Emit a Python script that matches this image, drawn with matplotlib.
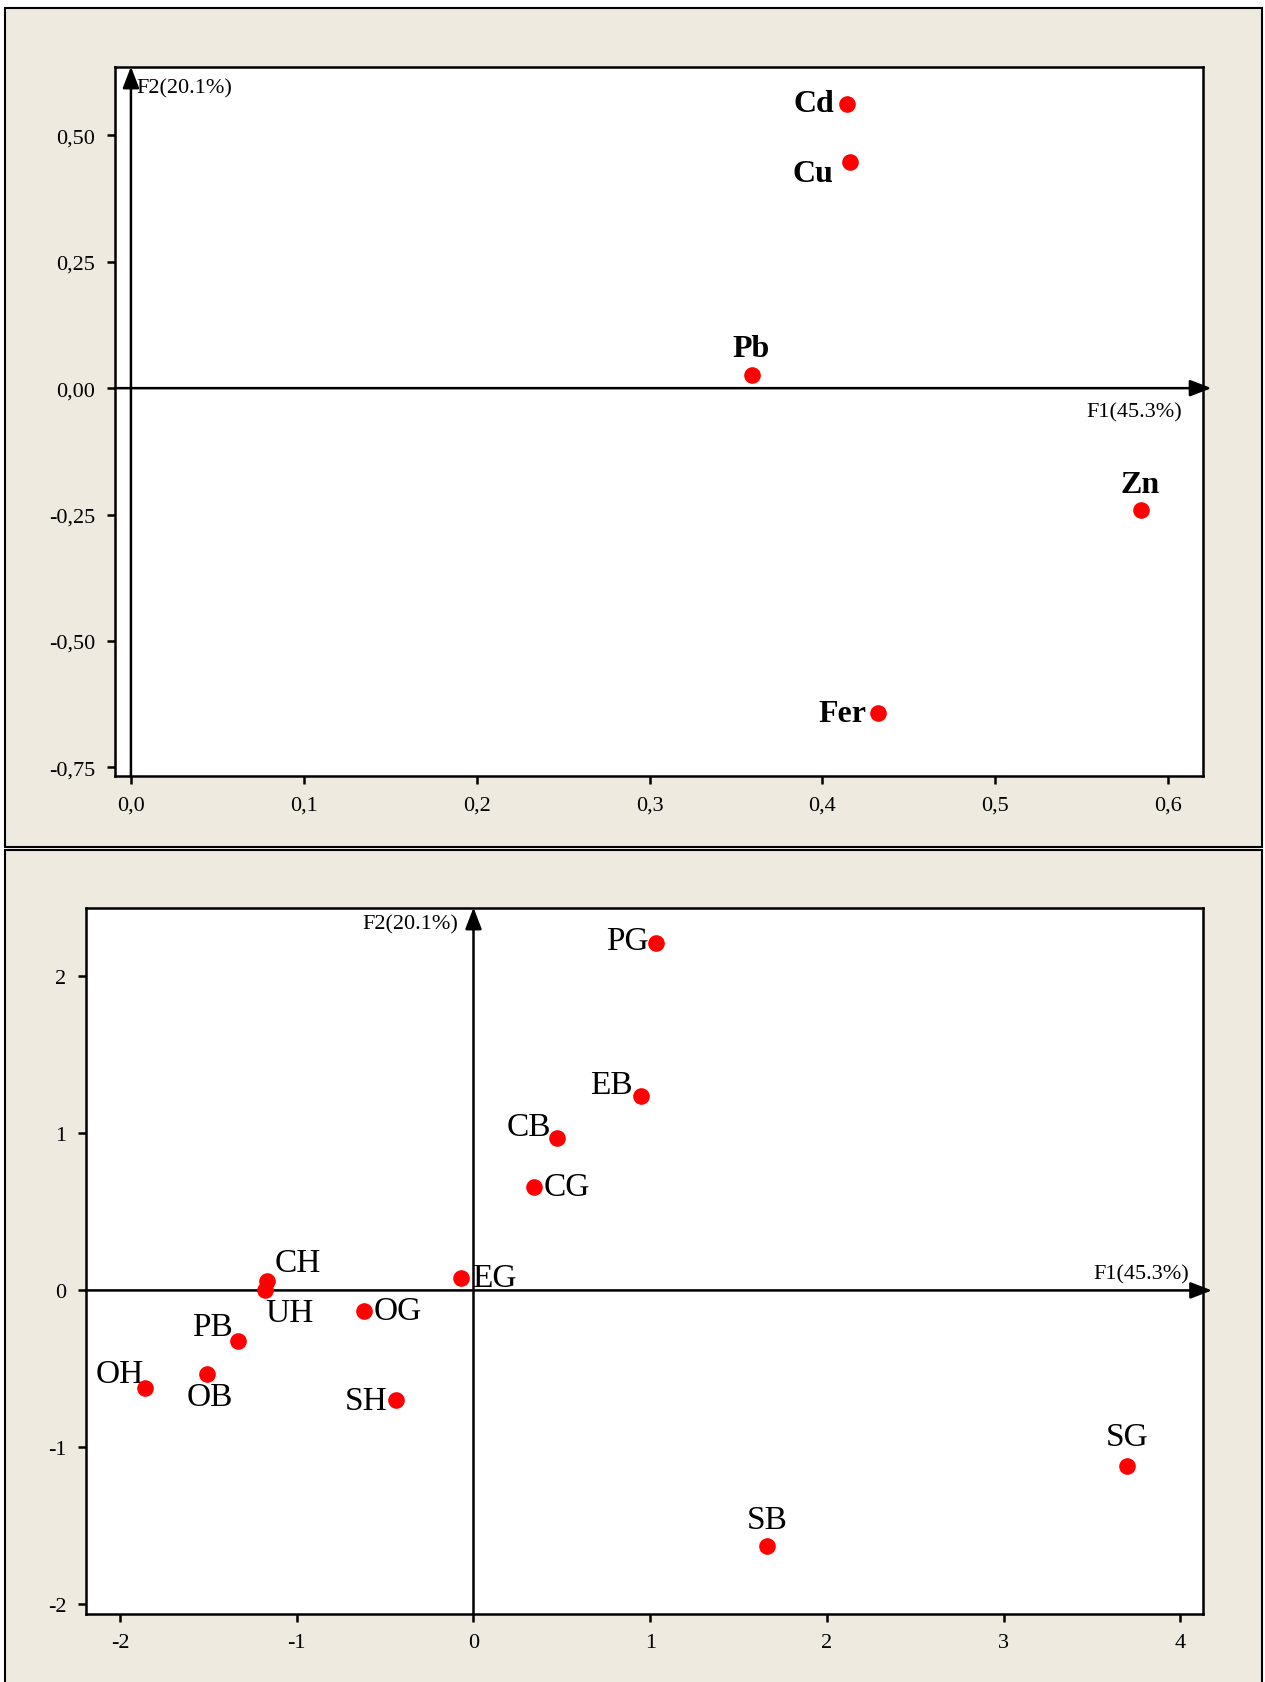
import matplotlib.pyplot as plt
from matplotlib.patches import Rectangle

plt.rcParams['font.family'] = ['Liberation Serif', 'DejaVu Serif']
plt.rcParams['axes.unicode_minus'] = False

# variables (top panel)
var_names = ['Cd', 'Cu', 'Pb', 'Zn', 'Fer']
var_f1 = [0.414, 0.416, 0.359, 0.584, 0.432]
var_f2 = [0.563, 0.447, 0.027, -0.242, -0.643]

# sites (bottom panel)
site_names = ['PG', 'EB', 'CB', 'CG', 'CH', 'UH', 'EG', 'OG', 'PB', 'OB', 'OH', 'SH', 'SB', 'SG']
site_f1 = [1.03, 0.95, 0.47, 0.34, -1.17, -1.18, -0.07, -0.62, -1.33, -1.51, -1.86, -0.44, 1.66, 3.70]
site_f2 = [2.21, 1.24, 0.97, 0.66, 0.06, 0.00, 0.08, -0.13, -0.32, -0.53, -0.62, -0.70, -1.63, -1.12]

top_xticks = [0.0, 0.1, 0.2, 0.3, 0.4, 0.5, 0.6]
top_xlabels = ['0,0', '0,1', '0,2', '0,3', '0,4', '0,5', '0,6']
top_yticks = [0.5, 0.25, 0.0, -0.25, -0.5, -0.75]
top_ylabels = ['0,50', '0,25', '0,00', '-0,25', '-0,50', '-0,75']
bot_xticks = [-2, -1, 0, 1, 2, 3, 4]
bot_yticks = [2, 1, 0, -1, -2]

x_title = 'F1(45.3%)'
y_title = 'F2(20.1%)'

# label placement: (dx, dy in points, ha)
var_pos = {
    'Cd': (-9, 0, 'right'), 'Cu': (-12, -8, 'right'), 'Pb': (0, 19, 'center'),
    'Zn': (0, 19, 'center'), 'Fer': (-8, 0, 'right'),
}
site_pos = {
    'PG': (-5, 2, 'right'), 'EB': (-6, 8, 'right'), 'CB': (-4, 8, 'right'),
    'CG': (7, 0, 'left'), 'CH': (6, 13, 'left'), 'UH': (0, -16, 'left'),
    'EG': (8, 0, 'left'), 'OG': (7, 0, 'left'), 'PB': (-4, 10, 'right'),
    'OB': (2, -17, 'center'), 'OH': (-1, 10, 'right'), 'SH': (-6, 0, 'right'),
    'SB': (0, 19, 'center'), 'SG': (0, 21, 'center'),
}

beige = '#EEEAE0'
fig = plt.figure(figsize=(12.65, 16.83), dpi=100)
fig.patch.set_facecolor('white')

# beige panels behind each chart
fig.add_artist(Rectangle((0.0043, 0.4961), 0.9933, 0.4988, transform=fig.transFigure,
                         facecolor=beige, edgecolor='black', lw=1.5, zorder=-5))
fig.add_artist(Rectangle((0.0043, -0.02), 0.9933, 0.5144, transform=fig.transFigure,
                         facecolor=beige, edgecolor='black', lw=1.5, zorder=-5))

ax1 = fig.add_axes([0.0908, 0.5384, 0.860, 0.4214])
ax2 = fig.add_axes([0.0678, 0.0405, 0.8832, 0.4196])


def style(ax):
    ax.set_facecolor('white')
    for s in ax.spines.values():
        s.set_linewidth(1.8)
    ax.tick_params(direction='out', length=6, width=1.8, labelsize=16, pad=8,
                   top=False, right=False)


def draw_axes_arrows(ax):
    arrow = dict(arrowstyle='-|>,head_length=0.65,head_width=0.25', color='black',
                 lw=1.8, mutation_scale=20, shrinkA=0, shrinkB=0)
    ax.annotate('', xy=(1.008, 0), xycoords=('axes fraction', 'data'),
                xytext=(0, 0), textcoords=('axes fraction', 'data'),
                arrowprops=arrow, annotation_clip=False)
    ax.annotate('', xy=(0, 1.0), xycoords=('data', 'axes fraction'),
                xytext=(0, 0), textcoords=('data', 'axes fraction'),
                arrowprops=arrow, annotation_clip=False)


# ---- top: variables ----
style(ax1)
ax1.set_xlim(-0.0093, 0.62)
ax1.set_ylim(-0.767, 0.636)
ax1.set_xticks(top_xticks)
ax1.set_xticklabels(top_xlabels)
ax1.set_yticks(top_yticks)
ax1.set_yticklabels(top_ylabels)
draw_axes_arrows(ax1)
ax1.scatter(var_f1, var_f2, s=120, color='red', zorder=5)
for n, x, y in zip(var_names, var_f1, var_f2):
    dx, dy, ha = var_pos[n]
    ax1.annotate(n, (x, y), xytext=(dx, dy), textcoords='offset points',
                 ha=ha, va='center', fontsize=23, fontweight='bold')
ax1.annotate(y_title, (0, 1), xycoords=('data', 'axes fraction'), xytext=(4, -15),
             textcoords='offset points', ha='left', va='center', fontsize=16)
ax1.annotate(x_title, (1, 0), xycoords=('axes fraction', 'data'), xytext=(-15, -17),
             textcoords='offset points', ha='right', va='center', fontsize=16)

# ---- bottom: sites ----
style(ax2)
ax2.set_xlim(-2.194, 4.128)
ax2.set_ylim(-2.06, 2.438)
ax2.set_xticks(bot_xticks)
ax2.set_yticks(bot_yticks)
draw_axes_arrows(ax2)
ax2.scatter(site_f1, site_f2, s=120, color='red', zorder=5)
for n, x, y in zip(site_names, site_f1, site_f2):
    dx, dy, ha = site_pos[n]
    ax2.annotate(n, (x, y), xytext=(dx, dy), textcoords='offset points',
                 ha=ha, va='center', fontsize=24)
ax2.annotate(y_title, (0, 1), xycoords=('data', 'axes fraction'), xytext=(-11, -12),
             textcoords='offset points', ha='right', va='center', fontsize=16)
ax2.annotate(x_title, (1, 0), xycoords=('axes fraction', 'data'), xytext=(-10, 12),
             textcoords='offset points', ha='right', va='center', fontsize=16)

fig.savefig('out.png', dpi=100, facecolor=fig.get_facecolor())
